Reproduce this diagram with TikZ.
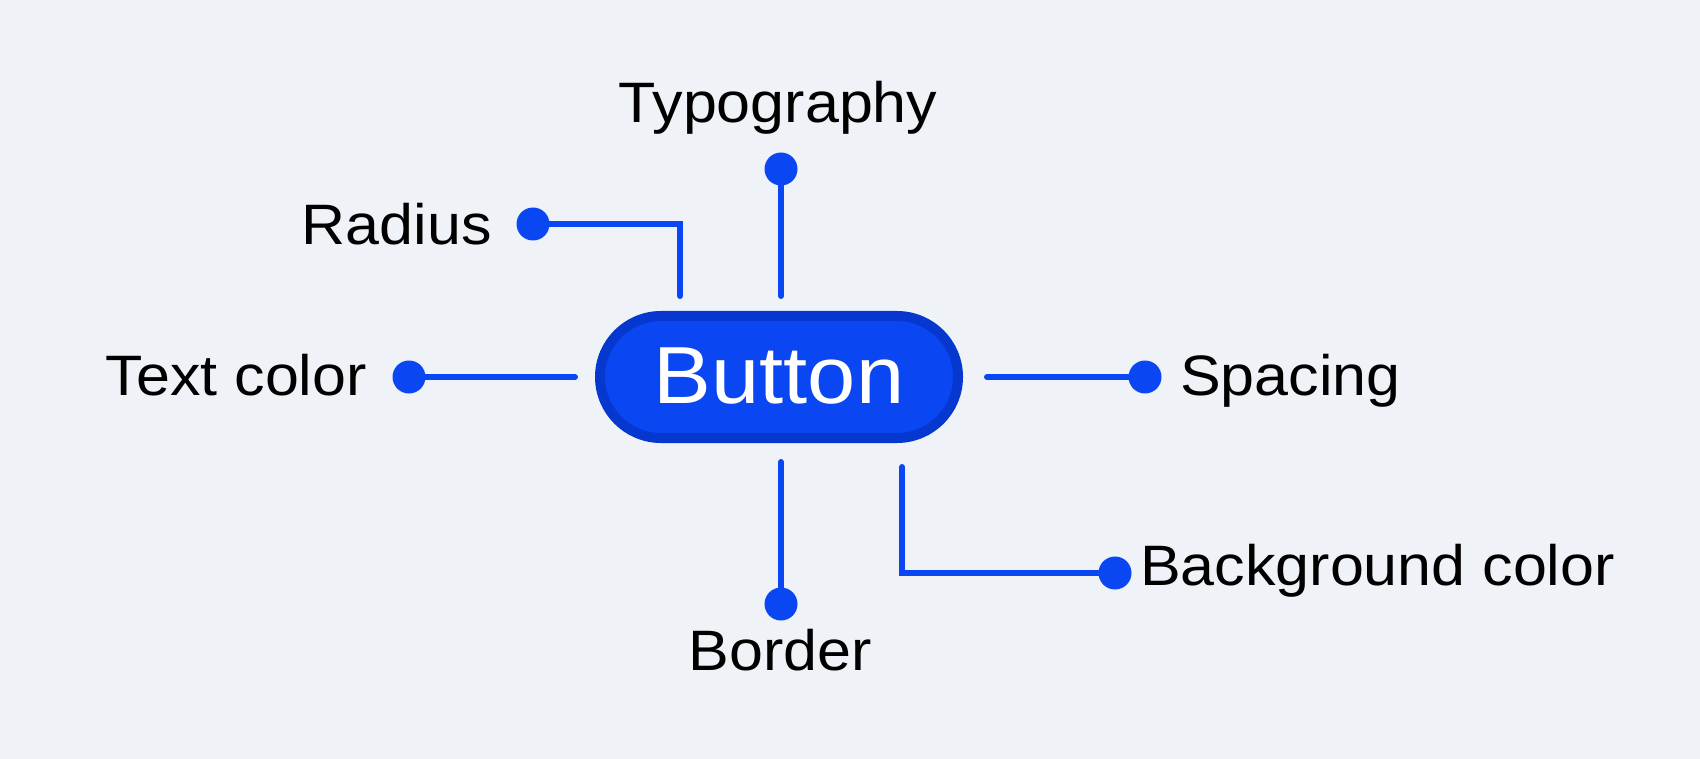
\documentclass[tikz,border=0pt]{standalone}
\usepackage{fontspec}
\setmainfont{Liberation Sans}[FakeStretch=1.07]
\usetikzlibrary{shapes.misc}
\definecolor{bgc}{HTML}{EFF3F7}
\definecolor{blu}{HTML}{0A47F2}
\definecolor{blud}{HTML}{0638D0}
\tikzset{
  lbl/.style={font=\fontsize{57}{60}\selectfont, text=black, inner sep=0pt},
  dot/.style={circle, fill=blu, inner sep=0pt, minimum size=33pt},
  conn/.style={draw=blu, line width=6pt, line cap=round, line join=miter},
}
\begin{document}
\begin{tikzpicture}[x=1pt,y=-1pt]
\fill[bgc] (0,0) rectangle (1700,759);
\useasboundingbox (0,0) rectangle (1700,759);
\node[rounded rectangle, fill=blu, draw=blud, line width=10pt, minimum width=358pt, minimum height=122pt, inner sep=0pt,
  text height=58pt, text depth=6pt,
  font=\fontsize{81}{84}\selectfont, text=white] (btn) at (779,377) {Button};
% labels
\node[lbl, anchor=base] (typo) at (778,123) {Typography};
\node[lbl, anchor=base east] (rad) at (492,245) {Radius};
\node[lbl, anchor=base east] (tcol) at (367,395) {Text color};
\node[lbl, anchor=base west] (spc) at (1180,395) {Spacing};
\node[lbl, anchor=base] (brd) at (780,670) {Border};
\node[lbl, anchor=base west] (bgcol) at (1140,585) {Background color};
% dots
\node[dot] (dtypo) at (781,169) {};
\node[dot] (drad) at (533,224) {};
\node[dot] (dtcol) at (409,377) {};
\node[dot] (dspc) at (1145,377) {};
\node[dot] (dbrd) at (781,604) {};
\node[dot] (dbg) at (1115,573) {};
% free ends
\coordinate (etypo) at (781,296);
\coordinate (erad) at (680,296);
\coordinate (etcol) at (575,377);
\coordinate (espc) at (987,377);
\coordinate (ebrd) at (781,462);
\coordinate (ebg) at (902,467);
% connectors
\draw[conn] (dtypo.center) -- (etypo);
\draw[conn] (drad.center) -| (erad);
\draw[conn] (dtcol.center) -- (etcol);
\draw[conn] (espc) -- (dspc.center);
\draw[conn] (ebrd) -- (dbrd.center);
\draw[conn] (ebg) |- (dbg.center);
\end{tikzpicture}
\end{document}
